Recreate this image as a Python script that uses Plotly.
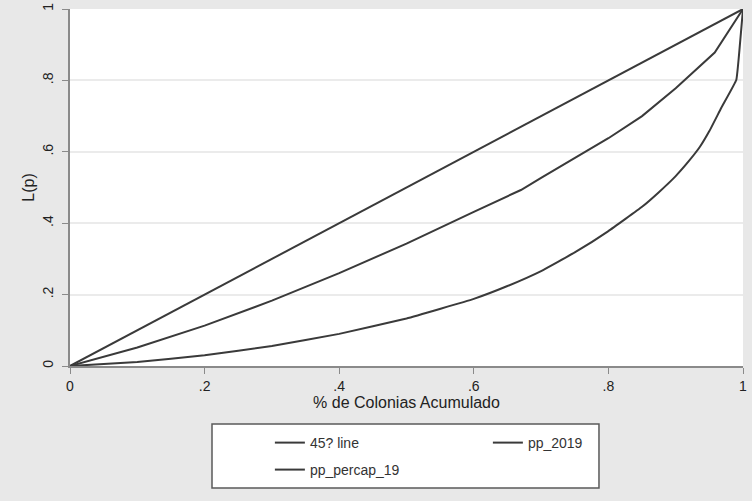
import plotly.graph_objects as go

# Lorenz curve data
p_line = [0, 1]
L_line = [0, 1]

p_2019 = [0, 0.05, 0.1, 0.2, 0.3, 0.4, 0.5, 0.6, 0.67, 0.70, 0.75, 0.80, 0.85, 0.90, 0.958, 1.0]
L_2019 = [0, 0.025, 0.052, 0.113, 0.183, 0.26, 0.343, 0.432, 0.493, 0.527, 0.582, 0.638, 0.700, 0.778, 0.878, 1.0]

p_percap = [0, 0.1, 0.2, 0.3, 0.4, 0.5, 0.6, 0.65, 0.7, 0.75, 0.8, 0.85, 0.875, 0.9, 0.92, 0.936, 0.95, 0.968, 0.99, 0.994, 1.0]
L_percap = [0, 0.011, 0.030, 0.056, 0.090, 0.133, 0.188, 0.224, 0.266, 0.318, 0.378, 0.446, 0.487, 0.532, 0.575, 0.614, 0.658, 0.724, 0.801, 0.87, 1.0]

tick_vals = [0, 0.2, 0.4, 0.6, 0.8, 1]
tick_text = ["0", ".2", ".4", ".6", ".8", "1"]

line_color = "#3a3a3a"
font_family = "Liberation Sans, Arial, sans-serif"

fig = go.Figure()
fig.add_trace(go.Scatter(x=p_line, y=L_line, mode="lines", name="45? line",
                         line=dict(color=line_color, width=2), legend="legend"))
fig.add_trace(go.Scatter(x=p_2019, y=L_2019, mode="lines", name="pp_2019",
                         line=dict(color=line_color, width=2), legend="legend"))
fig.add_trace(go.Scatter(x=p_percap, y=L_percap, mode="lines", name="pp_percap_19",
                         line=dict(color=line_color, width=2, shape="spline", smoothing=0.3),
                         legend="legend2"))

legend_common = dict(
    orientation="h",
    xanchor="left",
    yanchor="middle",
    bgcolor="rgba(0,0,0,0)",
    borderwidth=0,
    font=dict(size=14, color="#333333"),
    traceorder="normal",
)

fig.update_layout(
    width=752, height=501,
    margin=dict(l=70, r=9, t=9, b=135, autoexpand=False),
    paper_bgcolor="#e8e8e8",
    plot_bgcolor="#ffffff",
    font=dict(family=font_family, size=14, color="#222222"),
    showlegend=True,
    legend=dict(x=0.297, y=-0.2157, entrywidth=173, entrywidthmode="pixels", **legend_common),
    legend2=dict(x=0.297, y=-0.2913, **legend_common),
    shapes=[dict(type="rect", xref="paper", yref="paper",
                 x0=0.211, x1=0.786, y0=-0.342, y1=-0.1625,
                 fillcolor="#ffffff", line=dict(color="#5a5a5a", width=1.5),
                 layer="below")],
)

fig.update_xaxes(
    range=[0, 1],
    tickvals=tick_vals, ticktext=tick_text,
    showgrid=False, zeroline=False, automargin=False,
    showline=True, linecolor="#8a8a8a", linewidth=1.5,
    ticks="outside", ticklen=6, tickcolor="#8a8a8a",
    tickfont=dict(size=14, color="#222222"),
    title=dict(text="% de Colonias Acumulado", font=dict(size=16, color="#222222"), standoff=4),
)
fig.update_yaxes(
    range=[0, 1],
    tickvals=tick_vals, ticktext=tick_text,
    tickangle=-90,
    showgrid=True, gridcolor="#ebebeb", gridwidth=1.5,
    zeroline=False, automargin=False,
    showline=True, linecolor="#8a8a8a", linewidth=1.5,
    ticks="outside", ticklen=6, tickcolor="#8a8a8a",
    ticklabelstandoff=4,
    tickfont=dict(size=14, color="#222222"),
    title=dict(text="L(p)", font=dict(size=16, color="#222222"), standoff=1),
)

fig.write_html(
    "out.html",
    config={"displayModeBar": False},
    post_script="document.body.style.margin='0';document.body.style.background='#e8e8e8';",
)
